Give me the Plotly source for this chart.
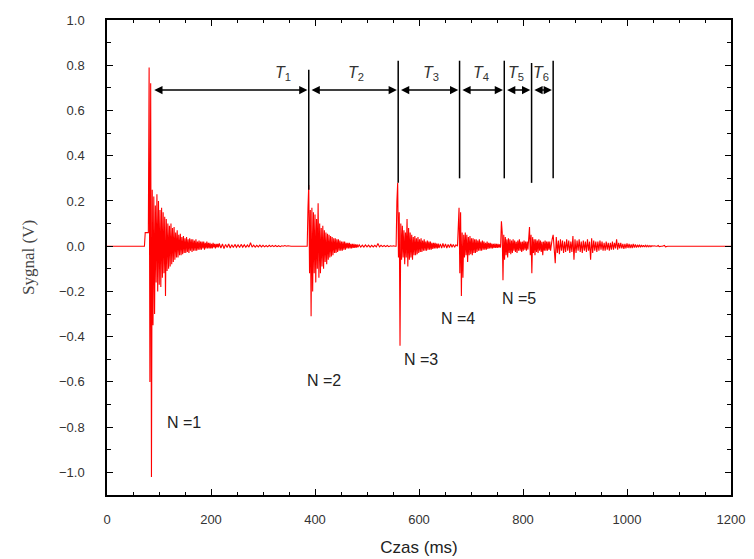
import plotly.graph_objects as go

# ---- signal (time in ms, value in V) ----
# each burst: start time, sample step, then the sampled values
b1_start, b1_step = 72, 1.5
b1_vals = [0, 0.06, 0.06, 0.06, 0.06, 0.06, 0.79, -0.60, 0.72, -1.02, 0.25, -0.35,
           0.22, -0.30, 0.18, -0.16, 0.23, -0.20, 0.20, -0.17, 0.16, -0.18, 0.17, -0.14,
           0.15, -0.12, 0.13, -0.22, 0.12, -0.11, 0.10, -0.10, 0.09, -0.09, 0.10, -0.08,
           0.08, -0.07, 0.085, -0.06, 0.06, -0.05, 0.07, -0.05, 0.05, -0.04, 0.055, -0.04,
           0.04, -0.035, 0.045, -0.03, 0.035, -0.03, 0.04, -0.025, 0.03, -0.03, 0.035, -0.02,
           0.03, -0.025, 0.03, -0.02, 0.025, -0.02, 0.03, -0.02, 0.02, -0.015, 0.025, -0.015,
           0.02, -0.015, 0.02, -0.01, 0.02, -0.015, 0.015, -0.01, 0.02, -0.01, 0.015, -0.01,
           0.015, -0.01, 0.01, -0.01, 0.015, -0.005, 0.01, -0.01, 0.01, -0.005, 0.01, -0.005]

t1_start, t1_step = 216, 3
t1_vals = [0.012, -0.008, 0.01, -0.01, 0.008, -0.006, 0.01, -0.008, 0.006, -0.006,
           0.008, -0.005, 0.006, -0.006, 0.008, -0.004, 0.006, -0.005, 0.005, -0.004,
           0.015, -0.004, 0.005, -0.004, 0.004, -0.003, 0.005, -0.003, 0.004, -0.003,
           0.003, -0.003, 0.004, -0.002, 0.003, -0.002, 0.003, -0.002, 0.002, -0.002,
           0.002, 0, 0.003, 0, 0.002, 0, 0, 0, 0, 0, 0, 0, 0, 0, 0, 0]

b2_start, b2_step = 385, 1.5
b2_vals = [0, 0.17, 0.27, -0.12, 0.16, -0.31, 0.17, -0.20, 0.15, -0.12, 0.14, -0.16,
           0.12, -0.10, 0.19, -0.14, 0.10, -0.12, 0.08, -0.09, 0.09, -0.10, 0.07, -0.07,
           0.06, -0.08, 0.055, -0.06, 0.05, -0.05, 0.045, -0.045, 0.04, -0.04, 0.035, -0.03,
           0.035, -0.03, 0.03, -0.025, 0.03, -0.02, 0.025, -0.02, 0.02, -0.02, 0.02, -0.015,
           0.02, -0.015, 0.015, -0.01, 0.015, -0.01, 0.015, -0.01, 0.01, -0.01, 0.01, -0.008,
           0.01, -0.008, 0.008, -0.006, 0.008, -0.005]

t2_start, t2_step = 485, 3
t2_vals = [0.006, -0.004, 0.005, -0.004, 0.006, -0.003, 0.005, -0.004, 0.004, -0.003,
           0.004, -0.003, 0.012, -0.003, 0.004, -0.002, 0.003, -0.002, 0.003, -0.002,
           0.002, 0, 0.002, 0]

b3_start, b3_step = 556, 1.5
b3_vals = [0, 0.2, 0.28, -0.05, 0.15, -0.44, 0.10, -0.06, 0.09, -0.05, 0.07, -0.08,
           0.06, -0.05, 0.12, -0.09, 0.08, -0.06, 0.06, -0.05, 0.05, -0.06, 0.04, -0.04,
           0.045, -0.04, 0.035, -0.035, 0.04, -0.03, 0.03, -0.025, 0.035, -0.025, 0.025, -0.02,
           0.03, -0.02, 0.02, -0.02, 0.025, -0.015, 0.02, -0.015, 0.02, -0.015, 0.015, -0.012,
           0.015, -0.01, 0.015, -0.01, 0.012, -0.01, 0.012, -0.008]

t3_start, t3_step = 641, 2.5
t3_vals = [0.01, -0.008, 0.012, -0.006, 0.01, -0.008, 0.008, -0.006, 0.01, -0.005,
           0.008, -0.005, 0.006]

b4_start, b4_step = 674, 1.5
b4_vals = [0, 0.16, 0.17, -0.12, 0.15, -0.22, 0.06, -0.14, 0.05, -0.05, 0.06, -0.04,
           0.05, -0.07, 0.04, -0.04, 0.045, -0.035, 0.035, -0.04, 0.035, -0.03, 0.03, -0.03,
           0.03, -0.025, 0.025, -0.02, 0.03, -0.02, 0.02, -0.02, 0.025, -0.015, 0.02, -0.015,
           0.015, -0.015, 0.02, -0.012, 0.015, -0.01, 0.015, -0.01, 0.012, -0.01, 0.01, -0.008,
           0.012, -0.008, 0.01, -0.008, 0.01, -0.006, 0.008, -0.006]

b5_start, b5_step = 757, 1.5
b5_vals = [0, 0.11, 0.06, -0.15, 0.05, -0.06, 0.04, -0.04, 0.03, -0.05, 0.035, -0.03,
           0.03, -0.035, 0.025, -0.03, 0.03, -0.02, 0.025, -0.025, 0.02, -0.03, 0.025, -0.02,
           0.03, -0.02, 0.02, -0.025, 0.02, -0.02, 0.025, -0.015, 0.02, -0.02, 0.02, -0.015]

b6_start, b6_step = 811, 1.5
b6_vals = [0.02, 0.085, -0.04, 0.05, -0.12, 0.04, -0.03, 0.03, -0.04, 0.03, -0.025, 0.025,
           -0.03, 0.03, -0.02, 0.025, -0.025, 0.02, -0.04, 0.02, -0.02, 0.025, -0.02, 0.02,
           -0.02, 0.02, -0.015, 0.02, -0.02, 0.015]

b7_start, b7_step = 856, 2
b7_vals = [0.03, 0.05, -0.03, -0.075, 0.04, -0.03, 0.025, -0.035, 0.03, -0.02,
           0.025, -0.03, 0.02, -0.025, 0.03, -0.02, 0.025, -0.03, 0.02, -0.025,
           0.045, -0.06, 0.03, -0.03, 0.025, -0.02, 0.03, -0.025, 0.02, -0.03,
           0.025, -0.02, 0.02, -0.025, 0.03, -0.02, 0.02,
           -0.06, 0.035, -0.03, 0.025, -0.02, 0.02, -0.025, 0.02, -0.02, 0.025, -0.015,
           0.02, -0.02, 0.015, -0.02, 0.02, -0.015, 0.015, -0.02, 0.015, -0.015, 0.02, -0.015,
           0.015, -0.01, 0.03, -0.015, 0.015, -0.01, 0.015, -0.01, 0.01, -0.012, 0.01, -0.01,
           0.012, -0.008, 0.01, -0.008, 0.008, -0.008, 0.01, -0.006, 0.008, -0.006, 0.006, -0.005,
           0.006, -0.005, 0.005, -0.004, 0.004, -0.004, 0.004, -0.003, 0.003, -0.003, 0.003, -0.002,
           0.002, 0, 0.002, 0, 0, 0, 0.003, -0.002, 0, 0, 0, 0, 0.003, -0.003, 0, 0, 0, 0, 0]

# impacts marked with black vertical lines and the period arrows
impact_t = [388, 560, 678, 764, 816.5, 858]
line_top = [0.78, 0.82, 0.82, 0.82, 0.81, 0.82]
line_bot = [0.25, 0.28, 0.30, 0.30, 0.28, 0.30]
arrow_first = 88
arrow_y = 0.69
period_names = ["1", "2", "3", "4", "5", "6"]
period_label_t = [338, 478, 623, 720, 787, 835]
period_label_y = 0.765

bounce_labels = ["N =1", "N =2", "N =3", "N =4", "N =5"]
bounce_label_t = [149, 417, 604, 675, 793]
bounce_label_y = [-0.78, -0.593, -0.50, -0.319, -0.23]

segments = [(b1_start, b1_step, b1_vals), (t1_start, t1_step, t1_vals),
            (b2_start, b2_step, b2_vals), (t2_start, t2_step, t2_vals),
            (b3_start, b3_step, b3_vals), (t3_start, t3_step, t3_vals),
            (b4_start, b4_step, b4_vals), (b5_start, b5_step, b5_vals),
            (b6_start, b6_step, b6_vals), (b7_start, b7_step, b7_vals)]

xs, ys = [0], [0]
for start, step, vals in segments:
    for i, v in enumerate(vals):
        xs.append(start + i * step)
        ys.append(v)
xs.append(1200)
ys.append(0)

fig = go.Figure()
fig.add_trace(go.Scatter(x=xs, y=ys, mode="lines",
                         line=dict(color="#ff0000", width=1.1), hoverinfo="skip"))

# black vertical markers
lx, ly = [], []
for t, top, bot in zip(impact_t, line_top, line_bot):
    lx += [t, t, None]
    ly += [bot, top, None]
fig.add_trace(go.Scatter(x=lx, y=ly, mode="lines",
                         line=dict(color="black", width=1.5), hoverinfo="skip"))

# double arrows between impacts
ends = [arrow_first] + impact_t
for k in range(len(impact_t)):
    a = ends[k] + (0 if k == 0 else 2.5)
    b = ends[k + 1] - 2.5
    fig.add_annotation(x=b, y=arrow_y, ax=a, ay=arrow_y, xref="x", yref="y",
                       axref="x", ayref="y", text="", showarrow=True,
                       arrowhead=2, startarrowhead=2, arrowside="end+start",
                       arrowsize=1.1, startarrowsize=1.1, arrowwidth=1.5,
                       arrowcolor="black")
    fig.add_annotation(x=period_label_t[k], y=period_label_y, xref="x", yref="y",
                       text="<i>T</i><sub>" + period_names[k] + "</sub>", showarrow=False,
                       font=dict(family="Liberation Sans", size=16, color="#333333"))

for txt, t, v in zip(bounce_labels, bounce_label_t, bounce_label_y):
    fig.add_annotation(x=t, y=v, xref="x", yref="y", text=txt, showarrow=False,
                       font=dict(family="Liberation Sans", size=16, color="#222222"))

axis_common = dict(showline=True, linecolor="black", linewidth=1.5, mirror="ticks",
                   ticks="inside", ticklen=6, tickwidth=1.2, tickcolor="black",
                   showgrid=False, zeroline=False, automargin=False,
                   tickfont=dict(family="Liberation Sans", size=13, color="#333333"))

fig.update_xaxes(range=[0, 1200], tickvals=[0, 200, 400, 600, 800, 1000, 1200],
                 minor=dict(dtick=50, ticks="inside", ticklen=3, tickcolor="black"),
                 ticklabelstandoff=12,
                 title=dict(text="Czas (ms)", standoff=15,
                            font=dict(family="Liberation Sans", size=17, color="#222222")),
                 **axis_common)
fig.update_yaxes(range=[-1.1, 1.0],
                 tickvals=[-1.0, -0.8, -0.6, -0.4, -0.2, 0.0, 0.2, 0.4, 0.6, 0.8, 1.0],
                 tickformat=".1f",
                 minor=dict(dtick=0.1, ticks="inside", ticklen=4, tickcolor="black"),
                 ticklabelstandoff=18,
                 title=dict(text="Sygnal (V)", standoff=20,
                            font=dict(family="Liberation Serif", size=17, color="#444444")),
                 **axis_common)

# page body adds an 8px offset, so the margins are shifted to compensate
fig.update_layout(width=754, height=559, showlegend=False,
                  margin=dict(l=99, r=31, t=12, b=72),
                  plot_bgcolor="white", paper_bgcolor="white")

fig.write_html("out.html")
